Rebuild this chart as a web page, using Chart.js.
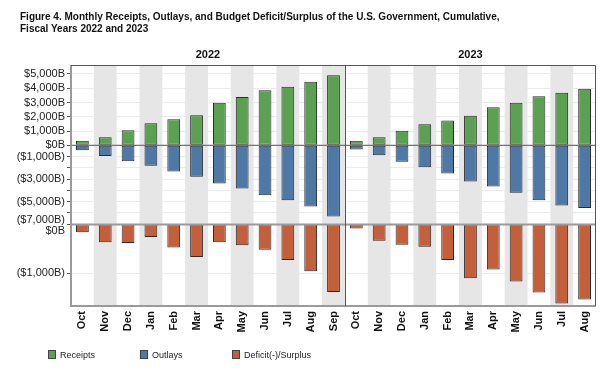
<!DOCTYPE html>
<html>
<head>
<meta charset="utf-8">
<script src="https://cdn.jsdelivr.net/npm/chart.js@4"></script>
<style>
  body { margin: 0; background: #fff; font-family: "Liberation Sans", Arial, sans-serif; }
  #wrap { position: relative; width: 611px; height: 377px; }
  #chart { position: absolute; left: 0; top: 0; }
  .title { position: absolute; left: 20px; top: 11px; font-size: 10px; font-weight: bold; line-height: 12px; color: #111; }
  .legend-item { position: absolute; top: 350px; font-size: 9px; color: #222; line-height: 10px; white-space: nowrap; }
  .legend-item span { display: inline-block; width: 6px; height: 7px; border: 1px solid #444; margin-right: 4px; vertical-align: top; }
</style>
</head>
<body>
<div id="wrap">
  <canvas id="chart" width="611" height="377"></canvas>
  <div class="title">Figure 4. Monthly Receipts, Outlays, and Budget Deficit/Surplus of the U.S. Government, Cumulative,<br>Fiscal Years 2022 and 2023</div>
  <div class="legend-item" style="left:48px"><span style="background:#5ba152"></span>Receipts</div>
  <div class="legend-item" style="left:140px"><span style="background:#4e79a7"></span>Outlays</div>
  <div class="legend-item" style="left:232px"><span style="background:#c45f3b"></span>Deficit(-)/Surplus</div>
</div>
<script>
// 회계연도별 월 (FY2022: Oct~Sep, FY2023: Oct~Aug)
const years = ['2022', '2023'];
const months22 = ['Oct', 'Nov', 'Dec', 'Jan', 'Feb', 'Mar', 'Apr', 'May', 'Jun', 'Jul', 'Aug', 'Sep'];
const months23 = ['Oct', 'Nov', 'Dec', 'Jan', 'Feb', 'Mar', 'Apr', 'May', 'Jun', 'Jul', 'Aug'];

// 누적 값 ($B)
const receipts22 = [320, 560, 1050, 1540, 1820, 2100, 2990, 3390, 3860, 4110, 4460, 4910];
const outlays22 = [-440, -960, -1430, -1820, -2320, -2800, -3390, -3840, -4440, -4880, -5450, -6340];
const deficit22 = [-170, -370, -385, -265, -475, -670, -370, -430, -525, -730, -960, -1380];

const receipts23 = [320, 560, 1020, 1470, 1730, 2080, 2660, 2990, 3440, 3690, 3970];
const outlays23 = [-380, -890, -1460, -1960, -2500, -3210, -3660, -4230, -4880, -5360, -5570];
const deficit23 = [-90, -340, -420, -460, -730, -1100, -925, -1165, -1390, -1615, -1535];

const topTicks = [5000, 4000, 3000, 2000, 1000, 0, -1000, -2000, -3000, -4000, -5000, -6000, -7000];
const bottomTicks = [0, -1000];

const colors = { receipts: '#5ba152', outlays: '#4e79a7', deficit: '#c45f3b' };

Chart.defaults.font.family = '"Liberation Sans", Arial, sans-serif';

// 양수/음수 구간 스케일이 다른 축 (원본 그림이 그렇게 그려져 있음)
class SplitScale extends Chart.LinearScale {
  zeroPixel() {
    return this.top + this.height * this.options.zeroAt;
  }
  getPixelForValue(value) {
    if (value === null || value === undefined) return NaN;
    const zero = this.zeroPixel();
    if (value >= 0) return zero - (value / this.max) * (zero - this.top);
    return zero + (value / this.min) * (this.bottom - zero);
  }
  getValueForPixel(pixel) {
    const zero = this.zeroPixel();
    if (pixel <= zero) return ((zero - pixel) / (zero - this.top)) * this.max;
    return ((pixel - zero) / (this.bottom - zero)) * this.min;
  }
}
SplitScale.id = 'split';
SplitScale.defaults = Chart.LinearScale.defaults;
Chart.register(SplitScale);

function money(v) {
  const s = '$' + Math.abs(v).toLocaleString('en-US') + 'B';
  return v < 0 ? '(' + s + ')' : s;
}

const labels = months22.concat(months23);
const n22 = months22.length;

const barBase = {
  grouped: false,
  barPercentage: 0.56,
  categoryPercentage: 1,
  borderColor: '#2a2a2a',
  borderWidth: 1,
  borderSkipped: false,
};

// 배경 띠, 테두리, 0 기준선, 연도 라벨
const decor = {
  id: 'decor',
  beforeDraw(chart) {
    // 패널 경계에 붙는 라벨을 안쪽으로 밀기
    const shift = (scale, text, dy) => {
      scale.getLabelItems(chart.chartArea).forEach((item) => {
        if (item.label === text && !item._moved) {
          item.options.translation[1] += dy;
          item._moved = true;
        }
      });
    };
    shift(chart.scales.yTop, '($7,000B)', -4);
    shift(chart.scales.yBot, '$0B', 7);
  },
  beforeDatasetsDraw(chart) {
    const { ctx, chartArea: a, scales: { x } } = chart;
    const w = x.width / labels.length;
    ctx.save();
    ctx.fillStyle = '#e6e6e6';
    labels.forEach((m, i) => {
      const local = i < n22 ? i : i - n22;
      if (local % 2 === 1) {
        ctx.fillRect(x.getPixelForValue(i) - w / 2, a.top, w, a.bottom - a.top);
      }
    });
    ctx.restore();
  },
  afterDatasetsDraw(chart) {
    const { ctx, chartArea: a, scales: { x, yTop } } = chart;
    const zero = yTop.getPixelForValue(0);
    const divX = (x.getPixelForValue(n22 - 1) + x.getPixelForValue(n22)) / 2;
    ctx.save();
    // 0 기준선
    ctx.strokeStyle = '#555';
    ctx.lineWidth = 1;
    ctx.beginPath();
    ctx.moveTo(a.left, zero);
    ctx.lineTo(a.right, zero);
    ctx.stroke();
    // 패널 구분선, 아래/왼쪽 축선
    ctx.strokeStyle = '#9a9a9a';
    ctx.lineWidth = 2;
    ctx.beginPath();
    ctx.moveTo(a.left, yTop.bottom + 0.5);
    ctx.lineTo(a.right, yTop.bottom + 0.5);
    ctx.moveTo(a.left, a.bottom);
    ctx.lineTo(a.right, a.bottom);
    ctx.moveTo(a.left, a.top);
    ctx.lineTo(a.left, a.bottom + 1);
    ctx.stroke();
    // 위/오른쪽 테두리, 연도 구분선
    ctx.strokeStyle = '#555';
    ctx.lineWidth = 1;
    ctx.beginPath();
    ctx.moveTo(a.left, a.top + 0.5);
    ctx.lineTo(a.right - 0.5, a.top + 0.5);
    ctx.lineTo(a.right - 0.5, a.bottom);
    ctx.moveTo(Math.round(divX) + 0.5, a.top);
    ctx.lineTo(Math.round(divX) + 0.5, a.bottom);
    ctx.stroke();
    // 연도 라벨
    ctx.fillStyle = '#111';
    ctx.font = 'bold 11px "Liberation Sans", Arial, sans-serif';
    ctx.textAlign = 'center';
    ctx.textBaseline = 'middle';
    ctx.fillText(years[0], (a.left + divX) / 2, a.top - 10);
    ctx.fillText(years[1], (divX + a.right) / 2, a.top - 10);
    ctx.restore();
  },
};

new Chart(document.getElementById('chart').getContext('2d'), {
  type: 'bar',
  data: {
    labels,
    datasets: [
      { ...barBase, label: 'Receipts', data: receipts22.concat(receipts23), backgroundColor: colors.receipts, yAxisID: 'yTop' },
      { ...barBase, label: 'Outlays', data: outlays22.concat(outlays23), backgroundColor: colors.outlays, yAxisID: 'yTop' },
      { ...barBase, label: 'Deficit(-)/Surplus', data: deficit22.concat(deficit23), backgroundColor: colors.deficit, yAxisID: 'yBot' },
    ],
  },
  options: {
    responsive: false,
    animation: false,
    layout: { padding: { top: 65, left: 0, right: 15, bottom: 31 } },
    plugins: {
      legend: { display: false },
      tooltip: { enabled: false },
    },
    scales: {
      x: {
        grid: { display: false, drawTicks: false },
        border: { display: false },
        ticks: {
          color: '#111',
          font: { size: 11, weight: 'bold' },
          maxRotation: 90,
          minRotation: 90,
          autoSkip: false,
          padding: 5,
        },
        afterFit: (s) => { s.height = 40; },
      },
      yBot: {
        type: 'linear',
        position: 'left',
        stack: 'y',
        stackWeight: 82,
        min: -1665,
        max: 0,
        afterBuildTicks: (s) => { s.ticks = bottomTicks.map((v) => ({ value: v })); },
        afterFit: (s) => { s.width = 71; },
        grid: { color: '#ebebeb', tickColor: '#555', tickLength: 4 },
        border: { display: false },
        ticks: { color: '#222', font: { size: 11 }, padding: 2, autoSkip: false, callback: (v) => money(v) },
      },
      yTop: {
        type: 'split',
        position: 'left',
        stack: 'y',
        stackWeight: 159,
        min: -7000,
        max: 5630,
        zeroAt: 0.505,
        afterBuildTicks: (s) => { s.ticks = topTicks.map((v) => ({ value: v })); },
        afterFit: (s) => { s.width = 71; },
        grid: { color: '#ebebeb', tickColor: '#555', tickLength: 4 },
        border: { display: false },
        ticks: {
          color: '#222',
          font: { size: 11 },
          padding: 2,
          autoSkip: false,
          callback: (v) => (v < 0 && (v / 1000) % 2 === 0 ? '' : money(v)),
        },
      },
    },
  },
  plugins: [decor],
});
</script>
</body>
</html>
